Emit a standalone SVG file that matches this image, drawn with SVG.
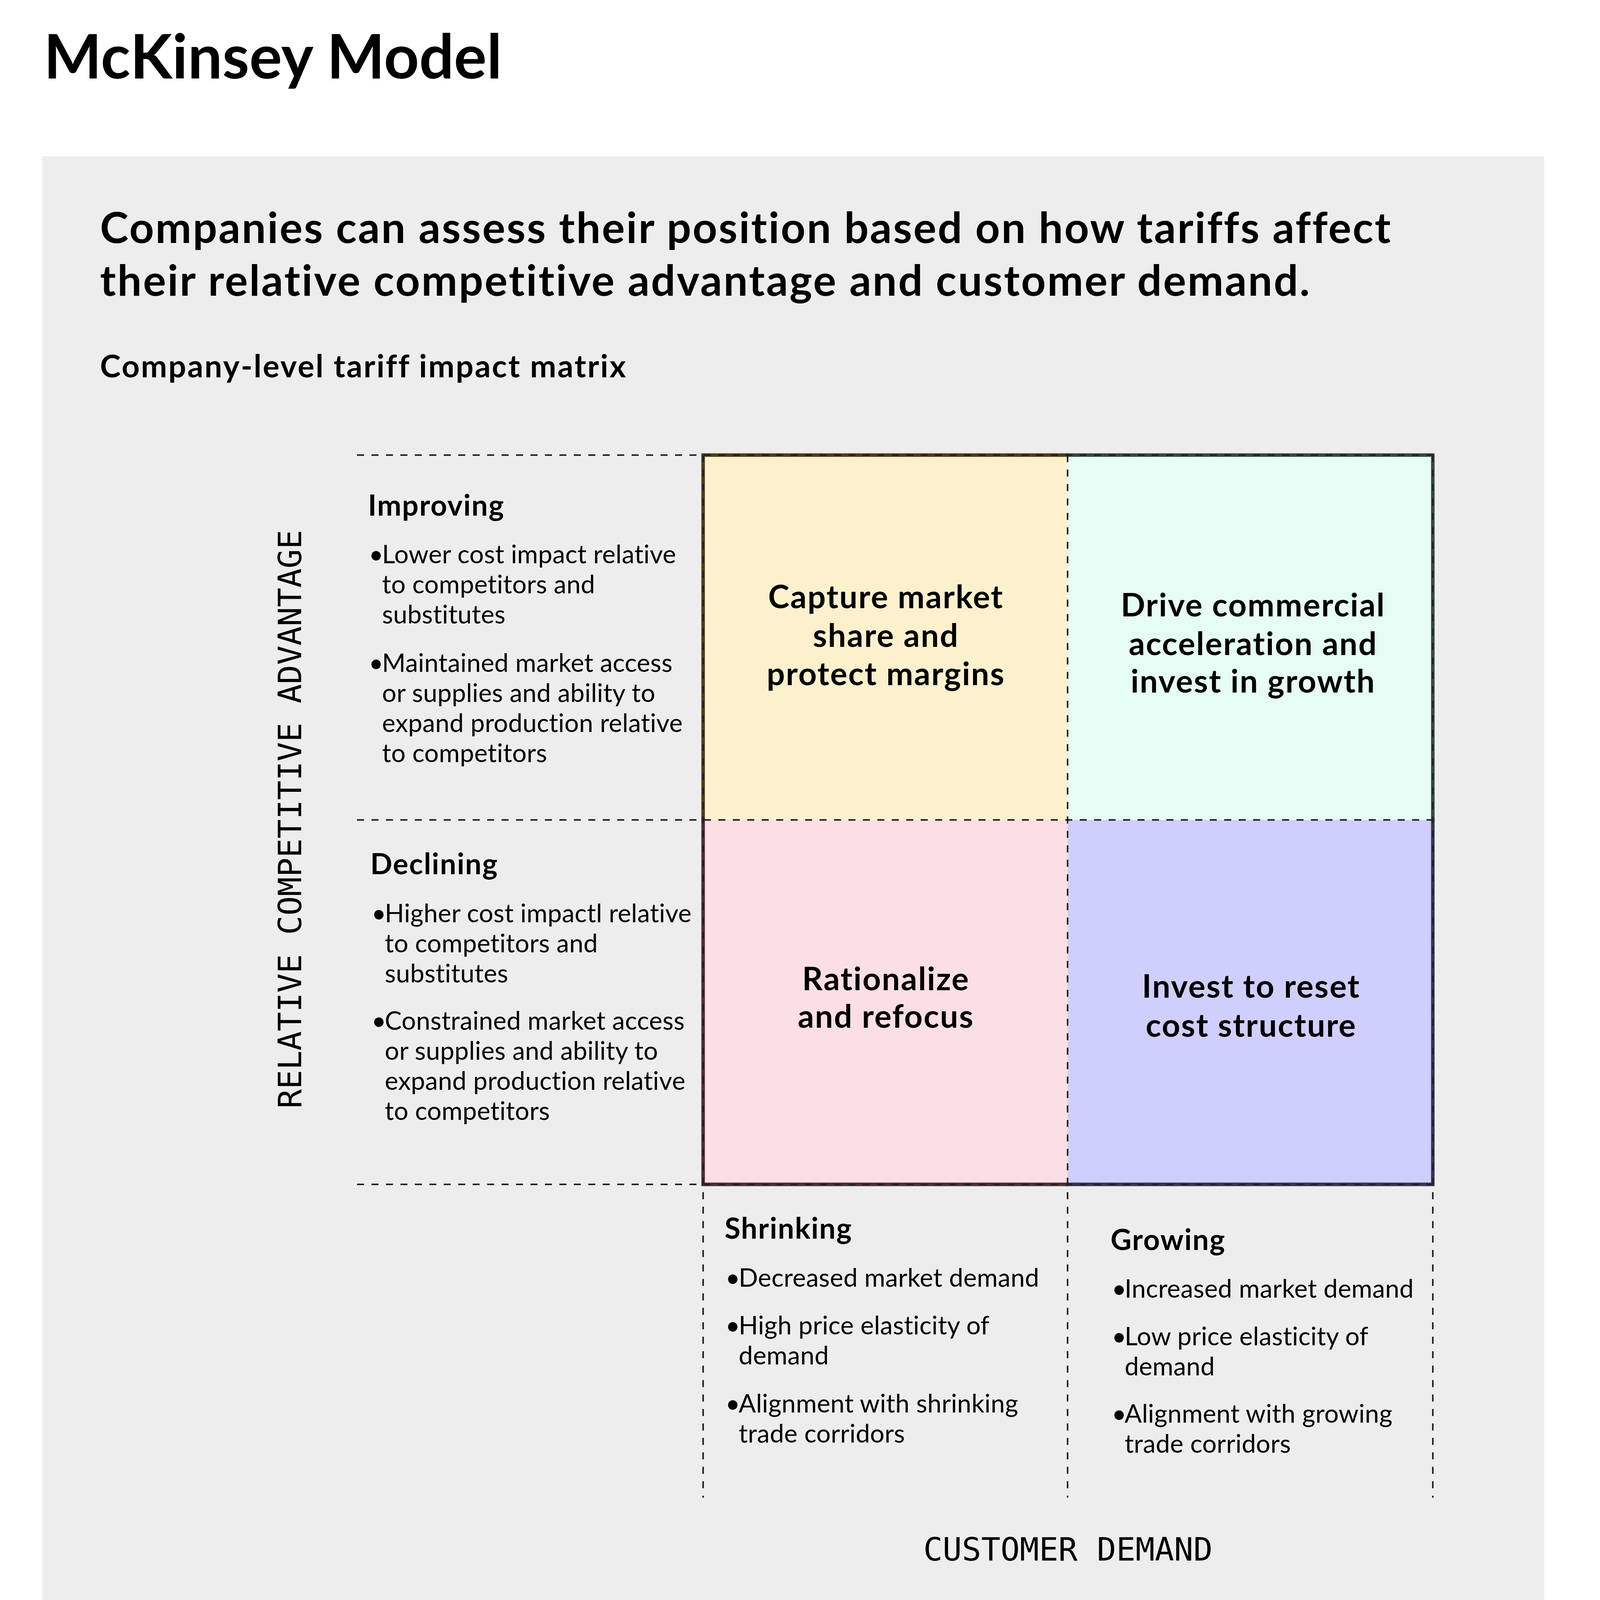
<svg xmlns="http://www.w3.org/2000/svg" width="5345" height="4371" viewBox="0 0 5345 4371">
<style>
.t{font-family:Lato,"Noto Sans",sans-serif;fill:#000}
.b{font-weight:700}
.body{font-size:65px;font-weight:400;letter-spacing:0.3px}
.hd{font-size:74px;font-weight:700;letter-spacing:2px}
.q{font-size:82px;font-weight:700;text-anchor:middle;letter-spacing:2.5px}
.mono{font-family:"DejaVu Sans Mono","Liberation Mono",monospace;font-size:82px;fill:#000}
.dash{stroke:#222;stroke-width:4;stroke-dasharray:18 19;fill:none}
.edge{stroke-width:9;fill:none;stroke-linecap:square}
</style>
<rect x="0" y="0" width="5345" height="4371" fill="#ffffff"/>
<text class="t b" x="112" y="201" font-size="157">McKinsey Model</text>
<rect x="108" y="400" width="3845" height="3858" fill="#EDEDED"/>
<text class="t b" x="256" y="622" font-size="110" letter-spacing="3.5">Companies can assess their position based on how tariffs affect</text>
<text class="t b" x="256" y="757" font-size="110" letter-spacing="3.6">their relative competitive advantage and customer demand.</text>
<text class="t b" x="256" y="966" font-size="80" letter-spacing="3.3">Company-level tariff impact matrix</text>

<g id="cell-capture">
<rect x="1800" y="1165" width="933" height="934" fill="#FDF1CD"/>
<path class="edge" d="M1800 2099 V1165 H2733" stroke="#4B3C1A"/>
<text class="t q" x="2268"><tspan x="2268" y="1557">Capture market</tspan><tspan x="2268" y="1656">share and</tspan><tspan x="2268" y="1754">protect margins</tspan></text>
</g>
<g id="cell-drive">
<rect x="2733" y="1165" width="935" height="934" fill="#E6FDF5"/>
<path class="edge" d="M2733 1165 H3668 V2099" stroke="#34493F"/>
<text class="t q" x="3208"><tspan x="3208" y="1578">Drive commercial</tspan><tspan x="3208" y="1677">acceleration and</tspan><tspan x="3208" y="1773">invest in growth</tspan></text>
</g>
<g id="cell-rationalize">
<rect x="1800" y="2099" width="933" height="933" fill="#FCDFE4"/>
<path class="edge" d="M1800 2099 V3032 H2733" stroke="#4A2D35"/>
<text class="t q" x="2268"><tspan x="2268" y="2535">Rationalize</tspan><tspan x="2268" y="2631">and refocus</tspan></text>
</g>
<g id="cell-invest">
<rect x="2733" y="2099" width="935" height="933" fill="#CFCFFD"/>
<path class="edge" d="M2733 3032 H3668 V2099" stroke="#34344F"/>
<text class="t q" x="3203"><tspan x="3203" y="2554">Invest to reset</tspan><tspan x="3203" y="2654">cost structure</tspan></text>
</g>

<g id="connectors">
<line class="dash" x1="914" y1="1165" x2="3668" y2="1165"/>
<line class="dash" x1="914" y1="2099" x2="3689" y2="2099"/>
<line class="dash" x1="914" y1="3032" x2="3668" y2="3032"/>
<line class="dash" x1="1800" y1="1165" x2="1800" y2="3834"/>
<line class="dash" x1="2733" y1="1165" x2="2733" y2="3834"/>
<line class="dash" x1="3668" y1="1165" x2="3668" y2="3834"/>
</g>

<g id="improving">
<text class="t hd" x="942" y="1320">Improving</text>
<text class="t body" x="944" y="1442">•</text>
<text class="t body"><tspan x="978" y="1442">Lower cost impact relative</tspan><tspan x="978" y="1519">to competitors and</tspan><tspan x="978" y="1596">substitutes</tspan></text>
<text class="t body" x="944" y="1720">•</text>
<text class="t body"><tspan x="978" y="1720">Maintained market access</tspan><tspan x="978" y="1797">or supplies and ability to</tspan><tspan x="978" y="1874">expand production relative</tspan><tspan x="978" y="1951">to competitors</tspan></text>
</g>

<g id="declining">
<text class="t hd" x="948" y="2238">Declining</text>
<text class="t body" x="951" y="2361">•</text>
<text class="t body"><tspan x="985" y="2361">Higher cost impactl relative</tspan><tspan x="985" y="2438">to competitors and</tspan><tspan x="985" y="2515">substitutes</tspan></text>
<text class="t body" x="951" y="2636">•</text>
<text class="t body"><tspan x="985" y="2636">Constrained market access</tspan><tspan x="985" y="2713">or supplies and ability to</tspan><tspan x="985" y="2790">expand production relative</tspan><tspan x="985" y="2867">to competitors</tspan></text>
</g>

<g id="shrinking">
<text class="t hd" x="1855" y="3171">Shrinking</text>
<text class="t body" x="1857" y="3294">•</text>
<text class="t body" x="1891" y="3294">Decreased market demand</text>
<text class="t body" x="1857" y="3416">•</text>
<text class="t body"><tspan x="1891" y="3416">High price elasticity of</tspan><tspan x="1891" y="3493">demand</tspan></text>
<text class="t body" x="1857" y="3616">•</text>
<text class="t body"><tspan x="1891" y="3616">Alignment with shrinking</tspan><tspan x="1891" y="3693">trade corridors</tspan></text>
</g>

<g id="growing">
<text class="t hd" x="2843" y="3200">Growing</text>
<text class="t body" x="2846" y="3322">•</text>
<text class="t body" x="2879" y="3322">Increased market demand</text>
<text class="t body" x="2846" y="3444">•</text>
<text class="t body"><tspan x="2879" y="3444">Low price elasticity of</tspan><tspan x="2879" y="3521">demand</tspan></text>
<text class="t body" x="2846" y="3642">•</text>
<text class="t body"><tspan x="2879" y="3642">Alignment with growing</tspan><tspan x="2879" y="3719">trade corridors</tspan></text>
</g>

<text class="mono" x="2734" y="3995" text-anchor="middle">CUSTOMER DEMAND</text>
<text class="mono" x="771" y="2097" text-anchor="middle" transform="rotate(-90 771 2097)">RELATIVE COMPETITIVE ADVANTAGE</text>
<text class="t" x="225" y="4137" font-size="56" letter-spacing="1.5">McKinsey &amp; Company</text>
</svg>
